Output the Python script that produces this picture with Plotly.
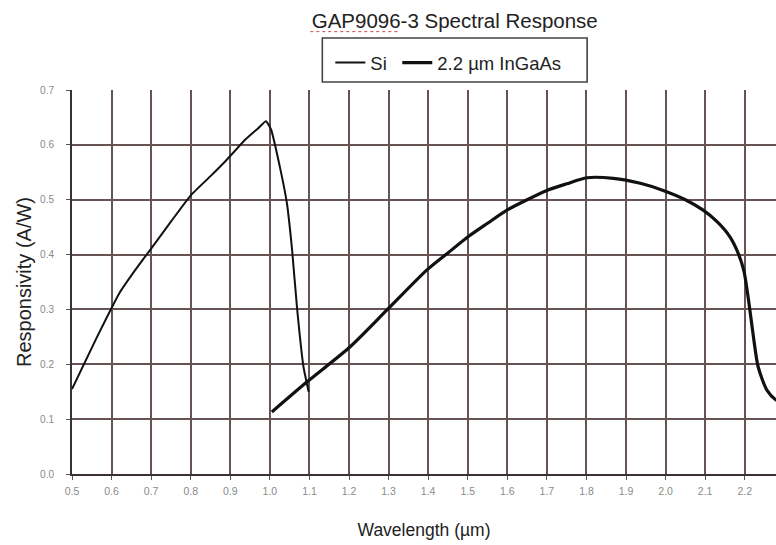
import plotly.graph_objects as go

# Wavelength (µm) and responsivity (A/W)
si_wavelength = [0.50, 0.56, 0.62, 0.66, 0.70, 0.75, 0.80, 0.85, 0.89, 0.94, 0.97, 0.99,
                 1.003, 1.027, 1.043, 1.056, 1.069, 1.085, 1.098]
si_response = [0.155, 0.245, 0.330, 0.372, 0.411, 0.460, 0.508, 0.543, 0.572, 0.611, 0.630, 0.643,
               0.628, 0.554, 0.494, 0.410, 0.300, 0.195, 0.150]

ingaas_wavelength = [1.005, 1.094, 1.203, 1.296, 1.397, 1.450, 1.500, 1.550, 1.599, 1.650, 1.700, 1.750,
                     1.801, 1.868, 1.936, 1.994, 2.050, 2.095, 2.130, 2.163, 2.182, 2.198, 2.210, 2.222,
                     2.234, 2.256, 2.279, 2.300]
ingaas_response = [0.113, 0.168, 0.232, 0.299, 0.372, 0.403, 0.432, 0.457, 0.481, 0.500, 0.517, 0.529,
                   0.540, 0.539, 0.530, 0.517, 0.500, 0.481, 0.460, 0.432, 0.405, 0.370, 0.315, 0.250,
                   0.195, 0.153, 0.135, 0.128]

x_ticks = [round(0.5 + 0.1 * i, 1) for i in range(19)]
y_ticks = [round(0.1 * i, 1) for i in range(8)]

FONT = "Liberation Sans, Arial, sans-serif"
GRID = "#665454"

fig = go.Figure()
fig.add_trace(go.Scatter(x=si_wavelength, y=si_response, mode="lines", name="Si", legend="legend",
                         line=dict(color="#111111", width=2, shape="spline", smoothing=0.4)))
fig.add_trace(go.Scatter(x=ingaas_wavelength, y=ingaas_response, mode="lines", name="2.2 µm InGaAs",
                         legend="legend2",
                         line=dict(color="#111111", width=3.2, shape="spline", smoothing=0.7)))

legend_common = dict(orientation="h", xanchor="left", y=(474 - 63) / 384, yanchor="middle",
                     borderwidth=0, bgcolor="rgba(0,0,0,0)",
                     font=dict(size=18.5, color="#222222"))

fig.update_layout(
    width=776, height=545,
    margin=dict(l=71.5, r=0, t=90, b=71),
    paper_bgcolor="white", plot_bgcolor="white",
    font=dict(family=FONT, color="#222222"),
    title=dict(text="GAP9096-3 Spectral Response", x=0.586, xanchor="center",
               y=0.961, yanchor="middle", font=dict(size=20.5, color="#222222")),
    legend=dict(x=(330 - 71.5) / 704.5, **legend_common),
    legend2=dict(x=(397 - 71.5) / 704.5, **legend_common),
    showlegend=True,
    xaxis=dict(range=[0.5, 2.279], tickvals=x_ticks, ticktext=[f"{v:.1f}" for v in x_ticks],
               showgrid=True, gridcolor=GRID, gridwidth=1.5,
               showline=True, linecolor="#3a3030", linewidth=2,
               ticks="outside", ticklen=4, tickcolor="#555555", ticklabelstandoff=2,
               tickfont=dict(size=10.5, color="#8a8a8a"), zeroline=False,
               title=dict(text="Wavelength (µm)", font=dict(size=17.5, color="#222222"), standoff=28)),
    yaxis=dict(range=[0, 0.7], tickvals=y_ticks, ticktext=[f"{v:.1f}" for v in y_ticks],
               showgrid=True, gridcolor=GRID, gridwidth=1.5,
               showline=True, linecolor="#3a3030", linewidth=2,
               ticks="outside", ticklen=4, tickcolor="#555555", ticklabelstandoff=10,
               tickfont=dict(size=10, color="#8a8a8a"), zeroline=False,
               title=dict(text="Responsivity (A/W)", font=dict(size=20, color="#222222"), standoff=3)),
)

# legend frame
fig.add_shape(type="rect", xref="paper", yref="paper",
              x0=(322 - 71.5) / 704.5, x1=(587 - 71.5) / 704.5,
              y0=(474 - 82) / 384, y1=(474 - 38) / 384,
              line=dict(color="#444444", width=1.6), fillcolor="rgba(0,0,0,0)", layer="above")

# spell-check squiggle under the product name in the title
fig.add_shape(type="line", xref="paper", yref="paper", x0=0.3385, x1=0.4663, y0=1.152, y1=1.152,
              line=dict(color="#d04848", width=1, dash="dot"))

fig.write_html("out.html", config={"displayModeBar": False},
               post_script="document.body.style.margin='0';")
